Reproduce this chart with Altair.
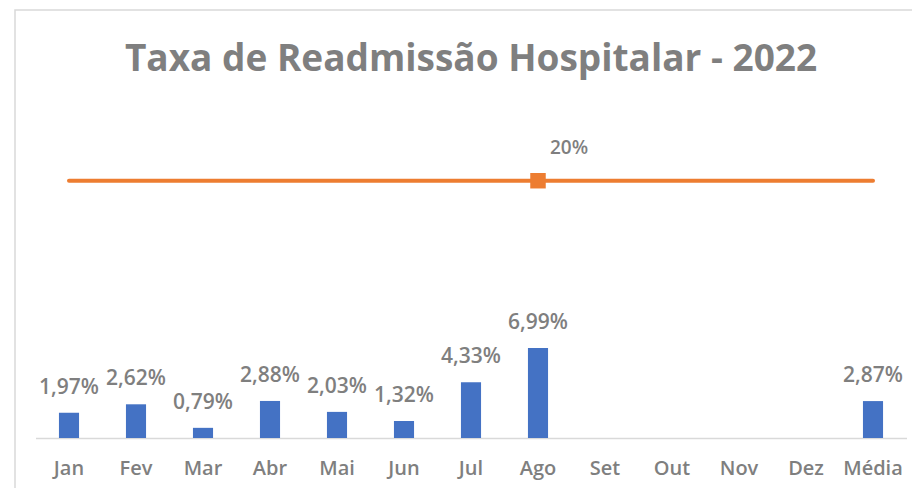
import altair as alt
import pandas as pd

months = ["Jan", "Fev", "Mar", "Abr", "Mai", "Jun", "Jul", "Ago", "Set", "Out", "Nov", "Dez", "Média"]
taxa = [1.97, 2.62, 0.79, 2.88, 2.03, 1.32, 4.33, 6.99, None, None, None, None, 2.87]
meta = [20] * 13
meta_marker_month = "Ago"
title_text = "Taxa de Readmissão Hospitalar - 2022"

def fmt(v):
    return "" if v is None else f"{v:.2f}".replace(".", ",") + "%"

df = pd.DataFrame({
    "mes": months,
    "taxa": taxa,
    "label": [fmt(v) for v in taxa],
    "meta": meta,
    "meta_label": [f"{m}%" for m in meta],
})

FONT = "Open Sans"
GRAY = "#7F7F7F"
BLUE = "#4472C4"
ORANGE = "#ED7D31"

x = alt.X("mes:N", sort=months, title=None,
          scale=alt.Scale(paddingInner=0.7, paddingOuter=0.35),
          axis=alt.Axis(labelAngle=0, labelFont=FONT, labelFontSize=20, labelColor=GRAY,
                        labelFontWeight=600, ticks=False, domainColor="#D9D9D9",
                        domainWidth=1.5, labelPadding=20))
yscale = alt.Scale(domain=[0, 22], nice=False)

base = alt.Chart(df)

frame = base.mark_rect(fill=None, stroke="#D9D9D9", strokeWidth=1.5).encode(
    x=alt.value(-20.5), x2=alt.value(884), y=alt.value(-145), y2=alt.value(360)
).transform_filter(alt.datum.mes == "Jan")

title = base.mark_text(font=FONT, fontSize=37, fontWeight="bold", color=GRAY,
                       baseline="middle", align="center").encode(
    x=alt.value(435.5), y=alt.value(-95), text=alt.value(title_text)
).transform_filter(alt.datum.mes == "Jan")

bars = base.mark_bar(color=BLUE).encode(
    x=x,
    y=alt.Y("taxa:Q", scale=yscale, axis=None),
).transform_filter("isValid(datum.taxa)")

bar_labels = base.mark_text(font=FONT, fontSize=21, fontWeight=600, color=GRAY,
                            baseline="middle", dy=-25).encode(
    x=x,
    y=alt.Y("taxa:Q", scale=yscale, axis=None),
    text="label:N",
).transform_filter("isValid(datum.taxa)")

line = base.mark_line(color=ORANGE, strokeWidth=4, strokeCap="round").encode(
    x=x,
    y=alt.Y("meta:Q", scale=yscale, axis=None),
)

marker = base.mark_point(shape="square", filled=True, color=ORANGE, size=240, opacity=1).encode(
    x=x,
    y=alt.Y("meta:Q", scale=yscale, axis=None),
).transform_filter(alt.datum.mes == meta_marker_month)

marker_label = base.mark_text(font=FONT, fontSize=19, fontWeight=600, color=GRAY,
                              baseline="middle", dx=31, dy=-33).encode(
    x=x,
    y=alt.Y("meta:Q", scale=yscale, axis=None),
    text="meta_label:N",
).transform_filter(alt.datum.mes == meta_marker_month)

chart = alt.layer(frame, title, line, marker, bars, bar_labels, marker_label).properties(
    width=871,
    height=283,
    background="white",
    autosize=alt.AutoSizeParams(type="none"),
    padding={"left": 27.5, "top": 147, "right": 5, "bottom": 50},
).configure_view(strokeWidth=0, stroke="transparent")

chart.save("out.html", embed_options={"renderer": "svg", "actions": False})
